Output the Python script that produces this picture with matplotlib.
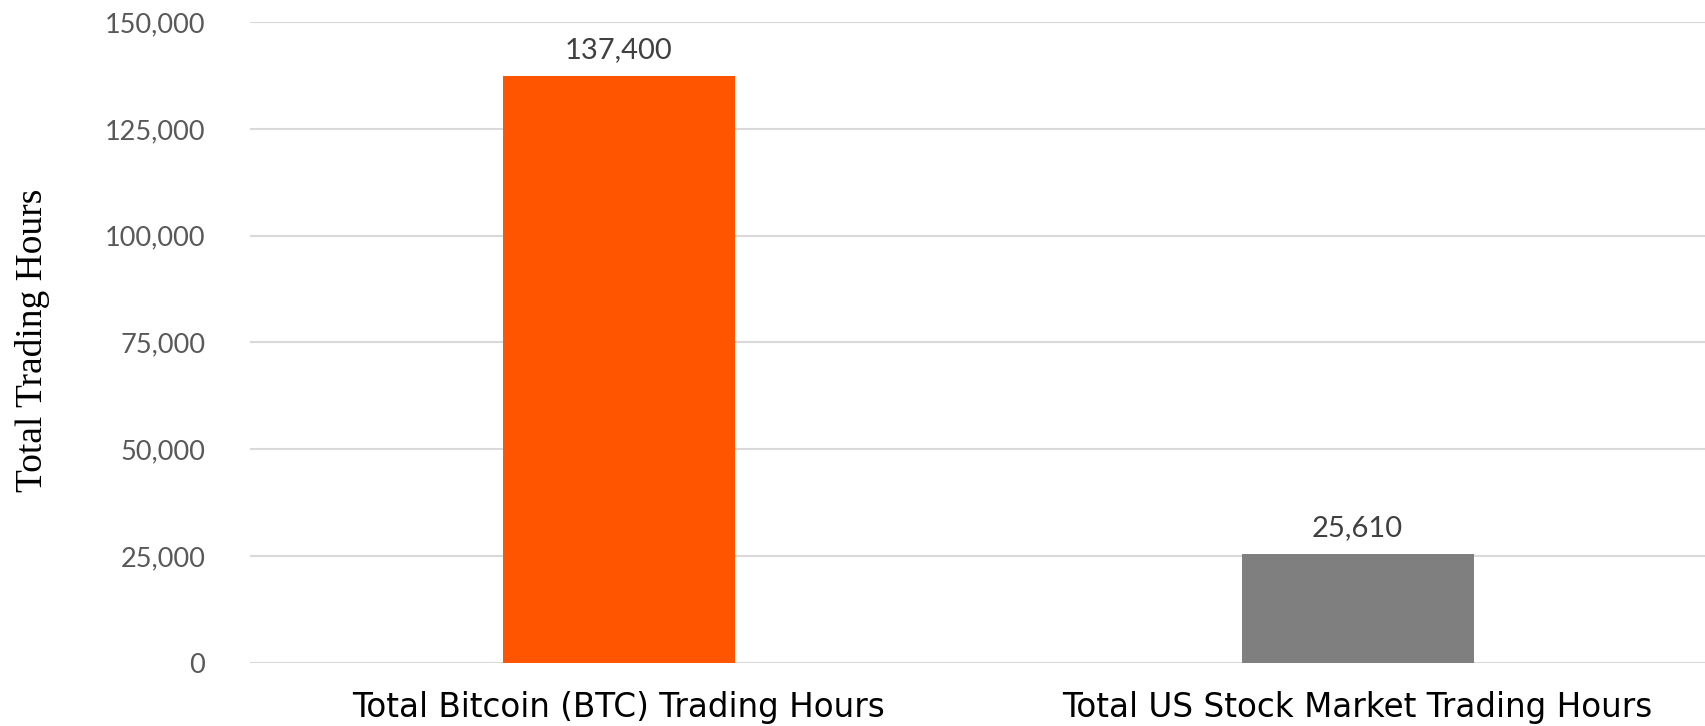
import matplotlib
matplotlib.use("Agg")
import matplotlib.pyplot as plt
from matplotlib.ticker import FuncFormatter

categories = ["Total Bitcoin (BTC) Trading Hours", "Total US Stock Market Trading Hours"]
values = [137400, 25610]
bar_colors = ["#FF5500", "#7F7F7F"]
yticks = [0, 25000, 50000, 75000, 100000, 125000, 150000]

fig = plt.figure(figsize=(17.06, 7.26), dpi=100)
ax = fig.add_axes([0.1463, 0.0868, 0.866, 0.8829])

x = list(range(len(categories)))
ax.bar(x, values, width=0.314, color=bar_colors, zorder=3)
ax.set_xlim(-0.5, 1.5)
ax.set_ylim(0, 150000)
ax.set_yticks(yticks)
ax.yaxis.set_major_formatter(FuncFormatter(lambda v, p: f"{int(v):,}"))
ax.grid(axis="y", color="#D9D9D9", linewidth=1.5, zorder=0)
for s in ax.spines.values():
    s.set_visible(False)
ax.tick_params(axis="y", length=0, pad=32, labelsize=19.5, labelcolor="#595959")
ax.tick_params(axis="x", length=0, pad=20)
for lab in ax.get_yticklabels():
    lab.set_fontfamily("Lato")
ax.set_xticks(x)
ax.set_xticklabels(categories, fontsize=23.5, fontfamily="DejaVu Sans", color="black")

for xi, v in zip(x, values):
    ax.annotate(f"{v:,}", (xi, v), xytext=(0, 9), textcoords="offset points",
                ha="center", va="bottom", fontsize=21, color="#404040", fontfamily="Lato")

fig.text(0.019, 0.531, "Total Trading Hours", rotation=90, ha="center", va="center",
         fontsize=27, fontfamily="Liberation Serif", color="black")

fig.savefig("out.png", dpi=100, facecolor="white")
